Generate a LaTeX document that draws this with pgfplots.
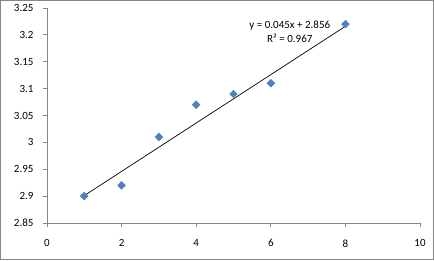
\documentclass[border=0pt]{standalone}
\usepackage{pgfplots}
\pgfplotsset{compat=1.18}
\usepackage{fontspec}
\setmainfont{Carlito}
\definecolor{axgray}{HTML}{868686}
\definecolor{mblue}{HTML}{4F81BD}
\begin{document}
\begin{tikzpicture}[x=1pt,y=1pt]
\useasboundingbox (0,0) rectangle (434,260);
\draw[axgray, line width=1pt] (0.5,0.5) rectangle (433.5,259.5);
\begin{axis}[
  at={(47pt,37pt)}, anchor=origin,
  scale only axis, width=373pt, height=215pt,
  xmin=0, xmax=10, ymin=2.85, ymax=3.25,
  xtick={0,2,4,6,8,10},
  ytick={2.85,2.9,2.95,3,3.05,3.1,3.15,3.2,3.25},
  yticklabels={2.85,2.9,2.95,3,3.05,3.1,3.15,3.2,3.25},
  xticklabels={0,2,4,6,8,10},
  axis x line*=bottom, axis y line*=left,
  axis line style={axgray, line width=0.8pt, -},
  tick align=outside,
  major tick length=4pt,
  tick style={axgray, line width=0.8pt},
  ticklabel style={font=\fontsize{11}{13}\selectfont, text=black},
  yticklabel style={anchor=east, xshift=-6pt},
  xticklabel style={anchor=north, yshift=-9pt},
  clip=false,
]
\addplot[black, line width=0.7pt] coordinates {(1,2.901) (8,3.216)};
\addplot[only marks, mark=square*, mark size=2.8pt, mark options={fill=mblue, draw=mblue, rotate=45}] coordinates {
(1,2.90) (2,2.92) (3,3.01) (4,3.07) (5,3.09) (6,3.11) (8,3.22)};
\node[align=center, font=\fontsize{11}{14}\selectfont, text=black] at (axis cs:6.51,3.205) {y = 0.045x + 2.856\\R² = 0.967};
\end{axis}
\end{tikzpicture}
\end{document}
